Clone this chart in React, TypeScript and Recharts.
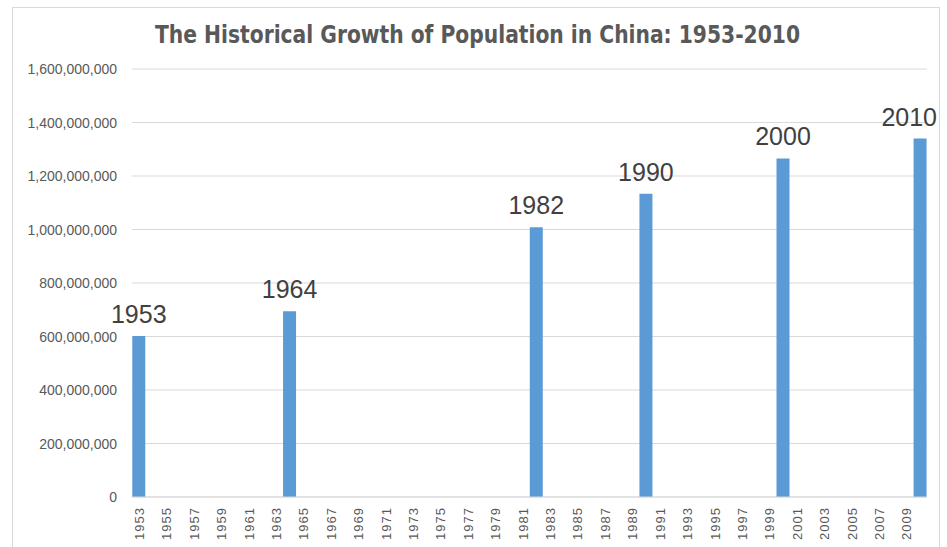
import React from "react";
import { BarChart, Bar, XAxis, YAxis, CartesianGrid, LabelList } from "recharts";

const TITLE = "The Historical Growth of Population in China: 1953-2010";

const years = [
  1953, 1954, 1955, 1956, 1957, 1958, 1959, 1960, 1961, 1962,
  1963, 1964, 1965, 1966, 1967, 1968, 1969, 1970, 1971, 1972,
  1973, 1974, 1975, 1976, 1977, 1978, 1979, 1980, 1981, 1982,
  1983, 1984, 1985, 1986, 1987, 1988, 1989, 1990, 1991, 1992,
  1993, 1994, 1995, 1996, 1997, 1998, 1999, 2000, 2001, 2002,
  2003, 2004, 2005, 2006, 2007, 2008, 2009, 2010,
];

const censusYears = [1953, 1964, 1982, 1990, 2000, 2010];
const censusPopulation = [601938035, 694581759, 1008180738, 1133682501, 1265830000, 1339724852];

const yTicks = [0, 200000000, 400000000, 600000000, 800000000, 1000000000, 1200000000, 1400000000, 1600000000];

const data = years.map((y) => {
  const i = censusYears.indexOf(y);
  return {
    year: String(y),
    population: i >= 0 ? censusPopulation[i] : null,
    label: i >= 0 ? String(y) : null,
  };
});

const W = 947;
const H = 547;
const PLOT_LEFT = 132;
const PLOT_RIGHT = 927;
const PLOT_TOP = 69;
const XAXIS_H = 50;
const FRAME_RIGHT = 940;

const fmt = (v: number) => v.toLocaleString("en-US");

const YTick = (props: any) => {
  const { y, payload } = props;
  return (
    <text x={PLOT_LEFT - 15} y={y} dy={5} textAnchor="end" fill="#595959" fontSize={14} fontFamily="'Liberation Sans', Arial, sans-serif">
      {fmt(payload.value)}
    </text>
  );
};

const XTick = (props: any) => {
  const { x, y, payload } = props;
  const tx = x + 5;
  const ty = y + 2;
  return (
    <text x={tx} y={ty} transform={`rotate(-90 ${tx} ${ty})`} textAnchor="end" fill="#595959" fontSize={13} letterSpacing={1} fontFamily="'Liberation Sans', Arial, sans-serif">
      {payload.value}
    </text>
  );
};

const DataLabel = (props: any) => {
  const { x, y, width, value } = props;
  if (value == null) return null;
  const label = String(value);
  const fs = 25;
  const half = (label.length * 0.556 * fs) / 2;
  let cx = x + width / 2;
  if (cx + half > FRAME_RIGHT - 3) cx = FRAME_RIGHT - 3 - half;
  return (
    <text x={cx} y={y - 13} textAnchor="middle" fill="#404040" fontSize={fs} fontFamily="'Liberation Sans', Arial, sans-serif">
      {label}
    </text>
  );
};

export default function App() {
  return (
    <div style={{ position: "absolute", left: 0, top: 0, width: W, height: H, overflow: "hidden", background: "#fff" }}>
      <div style={{ position: "absolute", left: 12, top: 7, width: FRAME_RIGHT - 12, height: H + 20, border: "1px solid #d9d9d9", boxSizing: "border-box" }} />
      <svg style={{ position: "absolute", left: 0, top: 0 }} width={W} height={60}>
        <text
          x={155}
          y={43}
          textLength={645}
          lengthAdjust="spacingAndGlyphs"
          fill="#595959"
          fontSize={25}
          fontWeight="bold"
          fontFamily="'Liberation Sans Narrow', 'DejaVu Sans Condensed', Arial, sans-serif"
        >
          {TITLE}
        </text>
      </svg>
      <div style={{ position: "absolute", left: 0, top: 0 }}>
        <BarChart
          width={W}
          height={H}
          data={data}
          margin={{ top: PLOT_TOP, right: W - PLOT_RIGHT, bottom: 0, left: 0 }}
          barCategoryGap="2%"
        >
          <CartesianGrid vertical={false} stroke="#d9d9d9" />
          <XAxis
            dataKey="year"
            interval={1}
            tickLine={false}
            axisLine={{ stroke: "#d9d9d9" }}
            height={XAXIS_H}
            tick={<XTick />}
          />
          <YAxis
            width={PLOT_LEFT}
            domain={[0, 1600000000]}
            ticks={yTicks}
            tickLine={false}
            axisLine={false}
            tick={<YTick />}
          />
          <Bar dataKey="population" fill="#5b9bd5" isAnimationActive={false}>
            <LabelList dataKey="label" content={<DataLabel />} />
          </Bar>
        </BarChart>
      </div>
    </div>
  );
}
